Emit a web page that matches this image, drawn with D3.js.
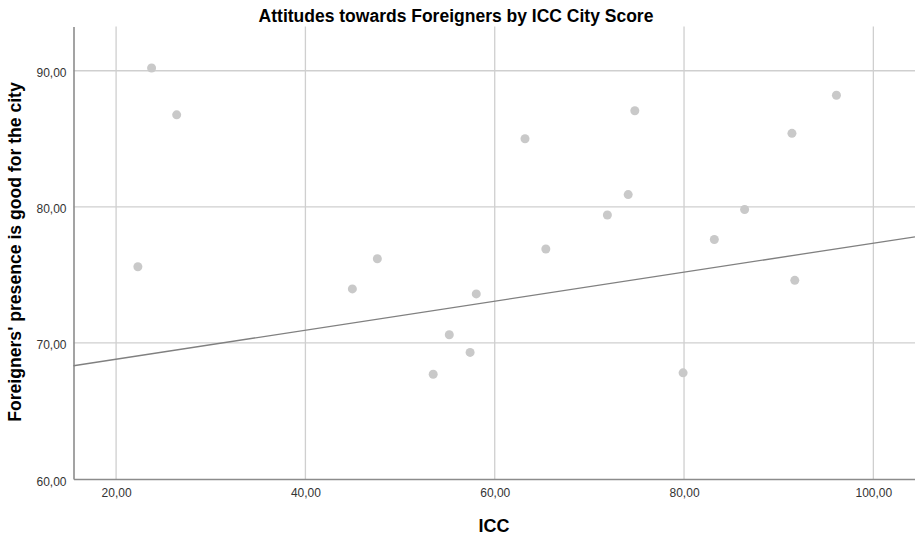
<!DOCTYPE html>
<html>
<head>
<meta charset="utf-8">
<script src="https://cdn.jsdelivr.net/npm/d3@7"></script>
<style>
  html, body { margin: 0; padding: 0; background: #fff; }
  svg { display: block; }
  text { font-family: "Liberation Sans", Arial, sans-serif; }
</style>
</head>
<body>
<svg id="chart" width="915" height="537"></svg>
<script>
// ICC city score (x) and share agreeing that foreigners' presence is good for the city (y)
const iccScore = [23.75, 26.4, 22.3, 44.96, 47.6, 53.5, 55.2, 57.4, 58.05, 63.2,
                  65.4, 71.9, 74.1, 74.8, 79.9, 83.2, 86.4, 91.4, 91.7, 96.1];
const attitude = [90.2, 86.76, 75.6, 73.97, 76.18, 67.7, 70.6, 69.3, 73.6, 85.0,
                  76.9, 79.4, 80.9, 87.06, 67.8, 77.6, 79.8, 85.4, 74.6, 88.2];

// Linear fit line: y = fitIntercept + fitSlope * x
const fitIntercept = 66.67;
const fitSlope = 0.1066;

const xTicks = [20, 40, 60, 80, 100];
const yTicks = [60, 70, 80, 90];
const xDomain = [15.5, 104.4];
const yDomain = [60, 93.25];

const titleText = "Attitudes towards Foreigners by ICC City Score";
const xLabel = "ICC";
const yLabel = "Foreigners' presence is good for the city";

const W = 915, H = 537;
const m = { left: 73.5, right: 0, top: 26.5, bottom: 58 };

const svg = d3.select("#chart");
const x = d3.scaleLinear().domain(xDomain).range([m.left, W - m.right]);
const y = d3.scaleLinear().domain(yDomain).range([H - m.bottom, m.top]);

const fmt = v => d3.format(".2f")(v).replace(".", ",");

// gridlines
svg.append("g")
  .selectAll("line.vg").data(xTicks).join("line")
  .attr("x1", d => x(d)).attr("x2", d => x(d))
  .attr("y1", y.range()[1]).attr("y2", y.range()[0])
  .attr("stroke", "#cfcfcf").attr("stroke-width", 1.3);

svg.append("g")
  .selectAll("line.hg").data(yTicks.filter(d => d > yDomain[0])).join("line")
  .attr("x1", x.range()[0]).attr("x2", x.range()[1])
  .attr("y1", d => y(d)).attr("y2", d => y(d))
  .attr("stroke", "#cfcfcf").attr("stroke-width", 1.3);

// axes
const xAxis = d3.axisBottom(x).tickValues(xTicks).tickFormat(fmt).tickSize(0).tickPadding(9);
const yAxis = d3.axisLeft(y).tickValues(yTicks).tickFormat(fmt).tickSize(0).tickPadding(7);

const gx = svg.append("g").attr("transform", `translate(0,${y.range()[0]})`).call(xAxis);
const gy = svg.append("g").attr("transform", `translate(${x.range()[0]},0)`).call(yAxis);
[gx, gy].forEach(g => {
  g.select(".domain").attr("stroke", "#8c8c8c").attr("stroke-width", 1.6);
  g.selectAll("text").attr("fill", "#333").attr("font-size", 12)
    .attr("font-family", "'Liberation Sans', Arial, sans-serif");
});
gy.selectAll(".tick text").attr("dy", "0.5em");

// points
const pts = iccScore.map((v, i) => ({ x: v, y: attitude[i] }));
svg.append("g").selectAll("circle").data(pts).join("circle")
  .attr("cx", d => x(d.x)).attr("cy", d => y(d.y)).attr("r", 4.5)
  .attr("fill", "#c9c9c9");

// fit line
svg.append("line")
  .attr("x1", x(xDomain[0])).attr("y1", y(fitIntercept + fitSlope * xDomain[0]))
  .attr("x2", x(xDomain[1])).attr("y2", y(fitIntercept + fitSlope * xDomain[1]))
  .attr("stroke", "#808080").attr("stroke-width", 1.3);

// title and axis labels
svg.append("text").attr("x", 456).attr("y", 22).attr("text-anchor", "middle")
  .attr("font-size", 17.5).attr("font-weight", "bold").attr("fill", "#000").text(titleText);

svg.append("text").attr("x", 494).attr("y", 532).attr("text-anchor", "middle")
  .attr("font-size", 18).attr("font-weight", "bold").attr("fill", "#000").text(xLabel);

svg.append("text").attr("transform", `translate(21,252) rotate(-90)`)
  .attr("text-anchor", "middle")
  .attr("font-size", 17.6).attr("font-weight", "bold").attr("fill", "#000").text(yLabel);
</script>
</body>
</html>
